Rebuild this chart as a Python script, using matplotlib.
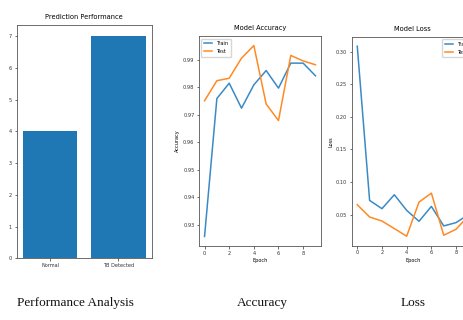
import matplotlib
matplotlib.use("Agg")
import matplotlib.pyplot as plt
from matplotlib import font_manager

names = {f.name for f in font_manager.fontManager.ttflist}
narrow = "Liberation Sans Narrow" if "Liberation Sans Narrow" in names else "DejaVu Sans"
plt.rcParams['font.family'] = [narrow, 'DejaVu Sans']

# ---- data ----
bar_categories = ["Normal", "TB Detected"]
bar_values = [4, 7]

epochs = list(range(10))
acc_train = [0.9257, 0.9759, 0.9815, 0.9724, 0.9809, 0.9861, 0.9797, 0.9888, 0.9888, 0.9842]
acc_test = [0.9751, 0.9824, 0.9833, 0.9906, 0.9952, 0.9739, 0.9679, 0.9916, 0.9896, 0.9882]
loss_train = [0.3087, 0.0717, 0.0590, 0.0804, 0.0564, 0.0396, 0.0625, 0.0325, 0.0376, 0.0500]
loss_test = [0.0651, 0.0462, 0.0400, 0.0284, 0.0167, 0.0691, 0.0829, 0.0182, 0.0274, 0.0480]

captions = ["Performance Analysis", "Accuracy", "Loss"]

W, H = 464, 320
fig = plt.figure(figsize=(W / 100, H / 100), dpi=100)

def ax_px(l, t, r, b):
    return fig.add_axes([l / W, (H - b) / H, (r - l) / W, (b - t) / H])

fs_tick = 3.6
fs_title = 4.8
lw_spine = 0.6

def style(ax):
    for s in ax.spines.values():
        s.set_linewidth(lw_spine)
        s.set_color("#555555")
    ax.tick_params(labelsize=fs_tick, length=1.8, width=0.5, pad=1.5, colors="#333333")

# Bar chart
ax1 = ax_px(16.7, 25, 151.7, 258.3)
ax1.bar(bar_categories, bar_values, color="#1f77b4")
ax1.set_title("Prediction Performance", fontsize=fs_title, pad=4)
style(ax1)

# Accuracy
ax2 = ax_px(199, 36, 321, 246)
ax2.plot(epochs, acc_train, color="#3a8ac6", lw=1.1, label="Train")
ax2.plot(epochs, acc_test, color="#ff8a24", lw=1.1, label="Test")
ax2.set_title("Model Accuracy", fontsize=fs_title, pad=4)
ax2.set_xlabel("Epoch", fontsize=fs_tick, labelpad=2)
ax2.set_ylabel("Accuracy", fontsize=fs_tick, labelpad=2)
ax2.set_xticks([0, 2, 4, 6, 8])
ax2.set_yticks([0.93, 0.94, 0.95, 0.96, 0.97, 0.98, 0.99])
ax2.set_yticklabels(["0.93", "0.94", "0.95", "0.96", "0.97", "0.98", "0.99"])
ax2.legend(loc="upper left", fontsize=fs_tick, handlelength=1.6, borderpad=0.5, labelspacing=0.6)
style(ax2)

# Loss
ax3 = ax_px(351.7, 36.7, 474, 245.7)
ax3.plot(epochs, loss_train, color="#3a8ac6", lw=1.1, label="Train")
ax3.plot(epochs, loss_test, color="#ff8a24", lw=1.1, label="Test")
ax3.set_title("Model Loss", fontsize=fs_title, pad=4)
ax3.set_xlabel("Epoch", fontsize=fs_tick, labelpad=2)
ax3.set_ylabel("Loss", fontsize=fs_tick, labelpad=2)
ax3.set_xticks([0, 2, 4, 6, 8])
ax3.set_yticks([0.05, 0.10, 0.15, 0.20, 0.25, 0.30])
ax3.set_yticklabels(["0.05", "0.10", "0.15", "0.20", "0.25", "0.30"])
ax3.legend(loc="upper right", fontsize=fs_tick, handlelength=1.6, borderpad=0.5, labelspacing=0.6)
style(ax3)

# Captions
for txt, xc in zip(captions, [75, 262, 413]):
    fig.text(xc / W, 1 - 303 / H, txt, ha="center", va="center",
             family="Liberation Serif", fontsize=9.5, color="#111111")

fig.savefig("out.png", dpi=100)
